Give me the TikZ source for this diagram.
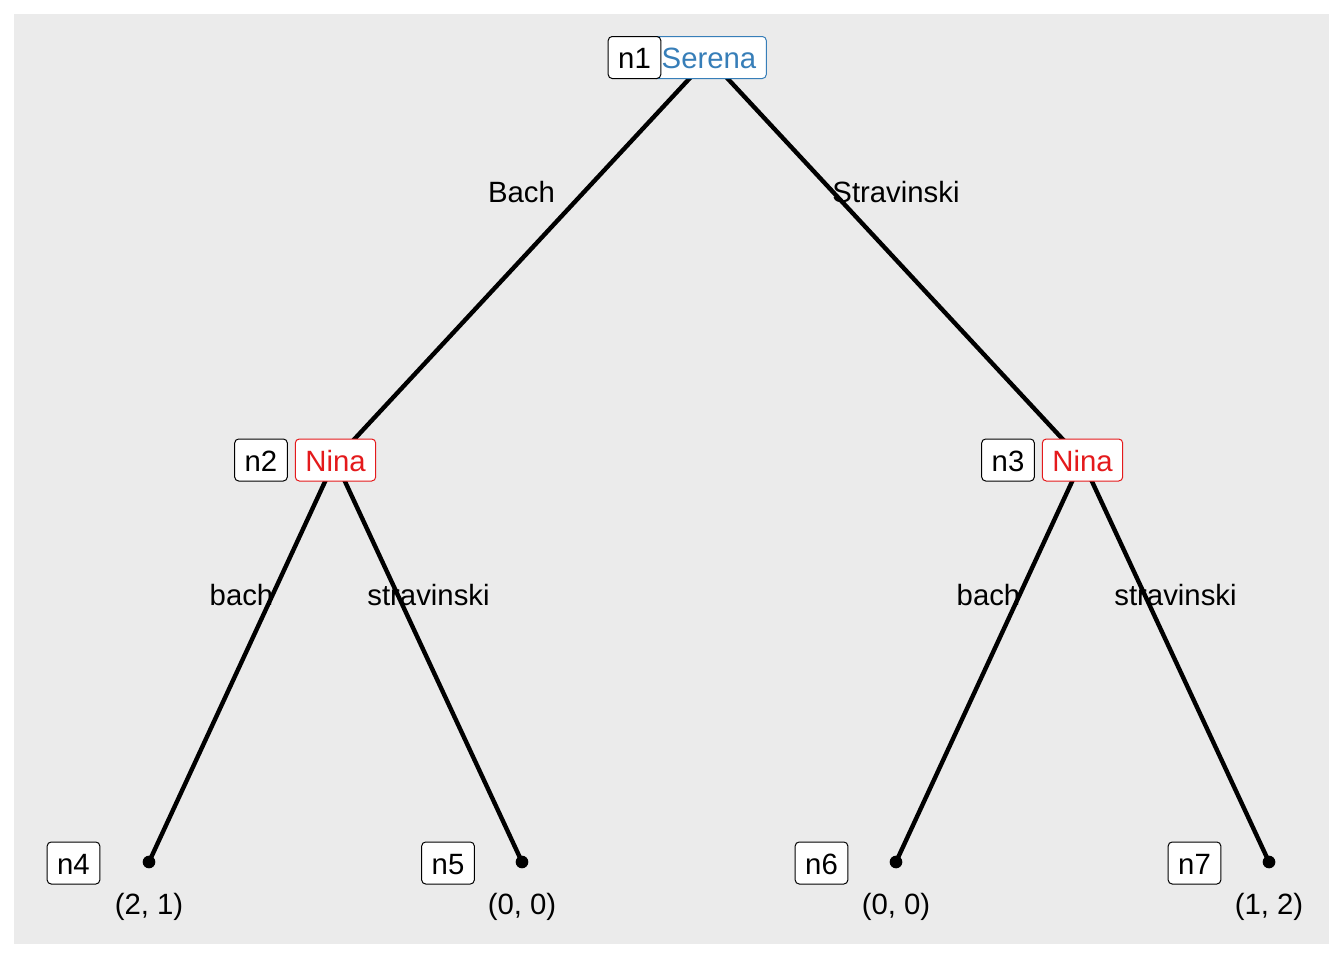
\documentclass[tikz,border=0pt]{standalone}
\usepackage{fontspec}
\setmainfont{Liberation Sans}
\definecolor{panel}{HTML}{EBEBEB}
\definecolor{sblue}{HTML}{377EB8}
\definecolor{nred}{HTML}{E41A1C}
\begin{document}
\begin{tikzpicture}[x=0.75pt,y=-0.75pt,
  every node/.style={font=\fontsize{22}{24}\selectfont, inner sep=0pt},
  lbl/.style={anchor=base},
  idbox/.style={anchor=base, draw=black, fill=white, line width=0.75pt, rounded corners=3pt,
    inner xsep=7.5pt, inner ysep=2.25pt, text height=21.75pt, text depth=5.25pt},
  plbox/.style={idbox, draw=#1, text=#1},
  edge/.style={line width=3.3pt, black},
  leafdot/.style={circle, fill=black, minimum size=9.5pt, inner sep=0pt}]
\useasboundingbox (0,0) rectangle (1344,960);
\fill[white] (0,0) rectangle (1344,960);
\fill[panel] (14,14) rectangle (1329,944);
% tree points
\coordinate (p1) at (708.5,58);
\coordinate (p2) at (335,460);
\coordinate (p3) at (1082,460);
\coordinate (p4) at (149,862);
\coordinate (p5) at (522,862);
\coordinate (p6) at (896,862);
\coordinate (p7) at (1269,862);
% edge labels
\node[lbl] (eBach) at (521.5,202.5) {Bach};
\node[lbl] (eStrav) at (896,202.5) {Stravinski};
\node[lbl] (eb2) at (241.5,605.5) {bach};
\node[lbl] (es2) at (428.5,605.5) {stravinski};
\node[lbl] (eb3) at (988.5,605.5) {bach};
\node[lbl] (es3) at (1175.5,605.5) {stravinski};
% edges
\draw[edge] (p1) -- (p2);
\draw[edge] (p1) -- (p3);
\draw[edge] (p2) -- (p4);
\draw[edge] (p2) -- (p5);
\draw[edge] (p3) -- (p6);
\draw[edge] (p3) -- (p7);
% leaf dots
\node[leafdot] (d4) at (p4) {};
\node[leafdot] (d5) at (p5) {};
\node[leafdot] (d6) at (p6) {};
\node[leafdot] (d7) at (p7) {};
% player boxes
\node[plbox=sblue] (pl1) at (709,68.5) {Serena};
\node[plbox=nred] (pl2) at (335.5,471) {Nina};
\node[plbox=nred] (pl3) at (1082.5,471) {Nina};
% id boxes
\node[idbox] (n1) at (634.5,68.5) {n1};
\node[idbox] (n2) at (261,471) {n2};
\node[idbox] (n3) at (1008,471) {n3};
\node[idbox] (n4) at (73.5,874) {n4};
\node[idbox] (n5) at (448,874) {n5};
\node[idbox] (n6) at (821.5,874) {n6};
\node[idbox] (n7) at (1194.5,874) {n7};
% payoffs
\node[lbl] (u4) at (149,914) {(2, 1)};
\node[lbl] (u5) at (522,914) {(0, 0)};
\node[lbl] (u6) at (896,914) {(0, 0)};
\node[lbl] (u7) at (1269,914) {(1, 2)};
\end{tikzpicture}
\end{document}
